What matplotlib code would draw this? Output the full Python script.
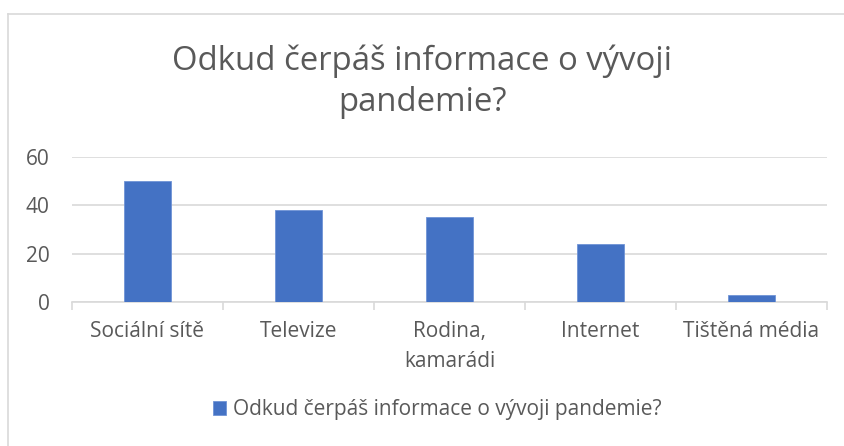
import matplotlib
matplotlib.use("Agg")
import matplotlib.pyplot as plt
from matplotlib.lines import Line2D
import numpy as np

categories = ["Sociální sítě", "Televize", "Rodina,\nkamarádi", "Internet", "Tištěná média"]
values = [50, 38, 35, 24, 3]
series_name = "Odkud čerpáš informace o vývoji pandemie?"
title = "Odkud čerpáš informace o vývoji\npandemie?"
yticks = [0, 20, 40, 60]

plt.rcParams['font.family'] = ['Open Sans', 'DejaVu Sans']
gray = "#595959"
bar_color = "#4472C4"
W, H = 845, 446

fig = plt.figure(figsize=(8.45, 4.46), dpi=100)
ax = fig.add_axes([72/W, 1-302/H, (827-72)/W, (302-157)/H])

x = np.arange(len(categories))
bars = ax.bar(x, values, width=0.31, color=bar_color, edgecolor="#6f93d6", linewidth=0.6, zorder=3, label=series_name)
ax.set_xlim(-0.5, len(categories)-0.5)
ax.set_ylim(0, 60)
ax.set_yticks(yticks)
ax.set_yticklabels([str(v) for v in yticks], color=gray, fontsize=15)
ax.yaxis.grid(True, color="#d9d9d9", linewidth=1.2, zorder=0)
ax.tick_params(axis='y', length=0, pad=16)
for s in ["top", "right", "left"]:
    ax.spines[s].set_visible(False)
ax.spines["bottom"].set_color("#d9d9d9")
ax.spines["bottom"].set_linewidth(1.2)

ax.set_xticks(x)
ax.set_xticklabels(categories, color=gray, fontsize=15, linespacing=1.55, va="top")
ax.tick_params(axis='x', length=0, pad=14)
ax.set_xticks(np.arange(-0.5, len(categories), 1.0), minor=True)
ax.tick_params(axis='x', which='minor', length=6, color="#d9d9d9", width=1.2)

fig.text(0.5, 1-82/H, title, ha="center", va="center", fontsize=23.7, color=gray, linespacing=1.3)

leg = fig.legend(handles=[bars], labels=[series_name], loc="center", bbox_to_anchor=(437/W, 1-410/H),
                 frameon=False, fontsize=15, handlelength=0.65, handleheight=0.65, handletextpad=0.3)
for t in leg.get_texts():
    t.set_color(gray)

# chart area border (left and top edges visible)
fig.add_artist(Line2D([8.5/W, 8.5/W], [0, 1-13.5/H], transform=fig.transFigure, color="#d9d9d9", linewidth=1.2))
fig.add_artist(Line2D([8.5/W, 1], [1-13.5/H, 1-13.5/H], transform=fig.transFigure, color="#d9d9d9", linewidth=1.2))

fig.savefig("out.png", dpi=100, facecolor="white")
